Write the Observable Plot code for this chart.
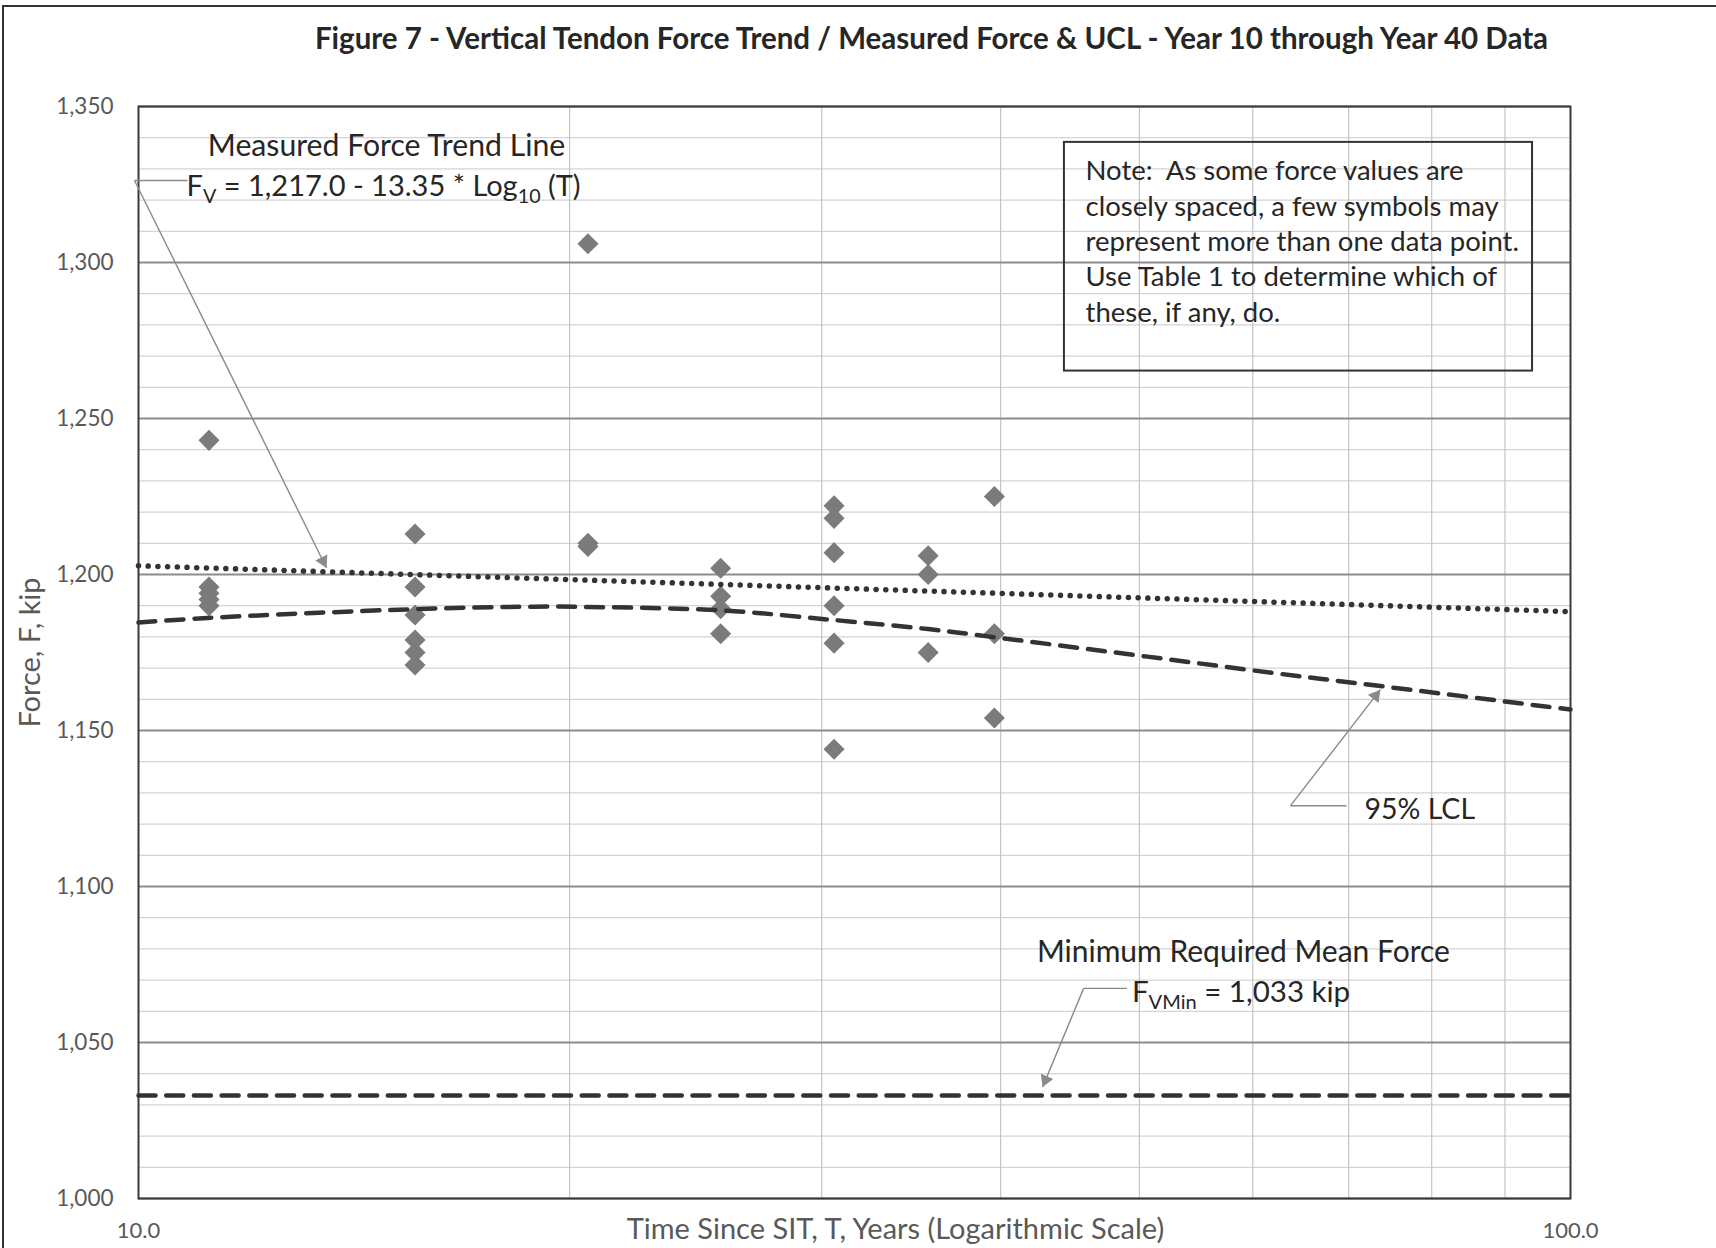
<!DOCTYPE html>
<html><head><meta charset="utf-8">
<script src="https://cdn.jsdelivr.net/npm/d3@7"></script>
<script src="https://cdn.jsdelivr.net/npm/@observablehq/plot@0.6"></script>
<style>
body{margin:0;background:#fff;}
#wrap{position:relative;width:1716px;height:1248px;overflow:hidden;}
.bl{position:absolute;left:2px;top:5px;width:2px;height:1243px;background:#333;}
.bt{position:absolute;left:2px;top:5px;width:1714px;height:2px;background:#333;}
</style></head><body><div id="wrap"></div>
<script>
// ---- data ----
const pointT = [11.2, 11.2, 11.2, 11.2, 11.2,
                15.6, 15.6, 15.6, 15.6, 15.6, 15.6,
                20.6, 20.6, 20.6,
                25.5, 25.5, 25.5, 25.5,
                30.6, 30.6, 30.6, 30.6, 30.6, 30.6,
                35.6, 35.6, 35.6,
                39.6, 39.6, 39.6];
const pointF = [1243, 1196, 1194, 1192, 1190,
                1213, 1196, 1187, 1179, 1175, 1171,
                1306, 1210, 1209,
                1202, 1193, 1189, 1181,
                1222, 1218, 1207, 1190, 1178, 1144,
                1206, 1200, 1175,
                1225, 1181, 1154];
const trendT = [10, 100];
const trendF = [1202.8, 1188.1];
const lclT = [10, 11.1, 15.6, 18.9, 20.6, 25.5, 30.6, 35.6, 39.6, 50, 62.1, 74.7, 100];
const lclF = [1184.6, 1186, 1188.9, 1189.7, 1189.6, 1188.5, 1185.4, 1182.5, 1179.9, 1174, 1168.4, 1163.9, 1156.7];
const minT = [10, 100];
const minF = [1033, 1033];
const yTicks = [1000, 1050, 1100, 1150, 1200, 1250, 1300, 1350];
const yMinor = [1010, 1020, 1030, 1040, 1060, 1070, 1080, 1090, 1110, 1120, 1130, 1140,
                1160, 1170, 1180, 1190, 1210, 1220, 1230, 1240, 1260, 1270, 1280, 1290,
                1310, 1320, 1330, 1340];
const xGrid = [20, 30, 40, 50, 60, 70, 80, 90];
const xTicks = [10, 100];

const titleText = "Figure 7 - Vertical Tendon Force Trend / Measured Force & UCL - Year 10 through Year 40 Data";
const xTitle = "Time Since SIT, T, Years (Logarithmic Scale)";
const yTitle = "Force, F, kip";
const noteText = "Note:\u00a0 As some force values are\nclosely spaced, a few symbols may\nrepresent more than one data point.\nUse Table 1 to determine which of\nthese, if any, do.";

// ---- tables ----
const points = pointT.map((t, i) => ({t, f: pointF[i]}));
const trend = trendT.map((t, i) => ({t, f: trendF[i]}));
const lcl = lclT.map((t, i) => ({t, f: lclF[i]}));
const minLine = minT.map((t, i) => ({t, f: minF[i]}));

const ink = "#262626", axisGray = "#595959", leader = "#8a8a8a";
const FONT = "Lato, 'Open Sans', sans-serif";

const leaders = [
  {x1: 9.936, y1: 1326.3, x2: 10.82, y2: 1326.3},
  {x1: 9.936, y1: 1326.3, x2: 13.53, y2: 1202.1},
  {x1: 63.75, y1: 1125.9, x2: 69.75, y2: 1125.9},
  {x1: 63.75, y1: 1125.9, x2: 73.66, y2: 1163.1},
  {x1: 45.71, y1: 1067.35, x2: 49.0, y2: 1067.35},
  {x1: 45.71, y1: 1067.35, x2: 42.79, y2: 1035.7}
];

const chart = Plot.plot({
  width: 1716, height: 1248,
  marginLeft: 138, marginRight: 146, marginTop: 106, marginBottom: 50,
  style: {fontFamily: FONT, background: "#fff"},
  x: {type: "log", domain: [10, 100], axis: null},
  y: {domain: [1000, 1350], axis: null},
  marks: [
    Plot.ruleY(yMinor, {stroke: "#d4d4d4", strokeWidth: 1.2}),
    Plot.ruleX(xGrid, {stroke: "#c4c4c4", strokeWidth: 1.2}),
    Plot.ruleY(yTicks, {stroke: "#8c8c8c", strokeWidth: 2}),
    Plot.frame({stroke: "#3a3a3a", strokeWidth: 2}),
    Plot.axisY({ticks: yTicks, tickFormat: d3.format(","), tickSize: 0, tickPadding: 25,
                fontSize: 22.5, color: axisGray, label: null}),
    Plot.axisX({ticks: xTicks, tickFormat: d3.format(".1f"), tickSize: 0, tickPadding: 24,
                fontSize: 22, color: axisGray, label: null}),
    Plot.rect([{x1: 44.32, x2: 94.08, y1: 1265.2, y2: 1338.5}],
              {x1: "x1", x2: "x2", y1: "y1", y2: "y2", fill: "none", stroke: "#333", strokeWidth: 2}),
    Plot.dot(points, {x: "t", y: "f", symbol: "diamond2", r: 9.5, fill: "#7b7b7b"}),
    Plot.line(lcl, {x: "t", y: "f", curve: "catmull-rom", stroke: "#333", strokeWidth: 4.5, strokeDasharray: "17 11"}),
    Plot.line(trend, {x: "t", y: "f", stroke: "#333", strokeWidth: 5.5, strokeDasharray: "0.01 9.7", strokeLinecap: "round"}),
    Plot.line(minLine, {x: "t", y: "f", stroke: "#333", strokeWidth: 4.5, strokeDasharray: "17 10.7"}),
    Plot.link(leaders, {x1: "x1", y1: "y1", x2: "x2", y2: "y2", stroke: leader, strokeWidth: 1.4}),
    Plot.dot([{x: 13.53, y: 1202.1}], {x: "x", y: "y", symbol: "triangle", r: 5, fill: leader, rotate: 153.6, dx: -3.46, dy: -6.96}),
    Plot.dot([{x: 73.66, y: 1163.1}], {x: "x", y: "y", symbol: "triangle", r: 5, fill: leader, rotate: 37.8, dx: -4.77, dy: 6.15}),
    Plot.dot([{x: 42.79, y: 1035.7}], {x: "x", y: "y", symbol: "triangle", r: 5, fill: leader, rotate: 202.5, dx: 2.98, dy: -7.19}),
    // annotations
    Plot.text(["Measured Force Trend Line"], {x: 14.9, y: 1337.2, text: d => d, fontSize: 30.2, fill: ink}),
    Plot.text(["FV = 1,217.0 - 13.35 * Log10 (T)"], {x: 14.83, y: 1324.4, text: d => d, fontSize: 29, fill: ink}),
    Plot.text(["95% LCL"], {x: 71.8, y: 1124.6, text: d => d, textAnchor: "start", fontSize: 28.5, fill: ink}),
    Plot.text(["Minimum Required Mean Force"], {x: 59.1, y: 1078.9, text: d => d, fontSize: 30, fill: ink}),
    Plot.text(["FVMin = 1,033 kip"], {x: 49.4, y: 1066.1, text: d => d, textAnchor: "start", fontSize: 29.5, fill: ink}),
    Plot.text([noteText], {x: 45.85, y: 1307.3, text: d => d, textAnchor: "start", lineAnchor: "middle",
                           lineHeight: 1.284, fontSize: 27.5, fill: ink}),
    // titles
    Plot.text([titleText], {frameAnchor: "top", dx: 77, dy: -67, lineAnchor: "middle", text: d => d,
                            fontSize: 29.5, fontWeight: "bold", fill: ink}),
    Plot.text([xTitle], {frameAnchor: "bottom", dx: 41, dy: 31, lineAnchor: "middle", text: d => d,
                         fontSize: 29, fill: axisGray}),
    Plot.text([yTitle], {frameAnchor: "left", dx: -108, rotate: -90, lineAnchor: "middle", textAnchor: "middle",
                         text: d => d, fontSize: 29, fill: axisGray})
  ]
});

// subscripts
function applySub(node, parts, fs) {
  const sel = d3.select(node);
  sel.text(null);
  let shifted = false;
  for (const [s, isSub] of parts) {
    const t = sel.append("tspan").text(s);
    if (isSub) {
      t.attr("font-size", fs * 0.68);
      if (!shifted) { t.attr("dy", fs * 0.26); shifted = true; }
    } else if (shifted) {
      t.attr("dy", -fs * 0.26); shifted = false;
    }
  }
}
chart.querySelectorAll("text").forEach(node => {
  const c = node.textContent;
  if (c === "FV = 1,217.0 - 13.35 * Log10 (T)") {
    applySub(node, [["F", false], ["V", true], [" = 1,217.0 - 13.35 * Log", false], ["10", true], [" (T)", false]], 29);
  } else if (c === "FVMin = 1,033 kip") {
    applySub(node, [["F", false], ["VMin", true], [" = 1,033 kip", false]], 29.5);
  }
});

const wrap = document.getElementById("wrap");
wrap.appendChild(chart);
const bl = document.createElement("div"); bl.className = "bl"; wrap.appendChild(bl);
const bt = document.createElement("div"); bt.className = "bt"; wrap.appendChild(bt);
</script>
</body></html>
